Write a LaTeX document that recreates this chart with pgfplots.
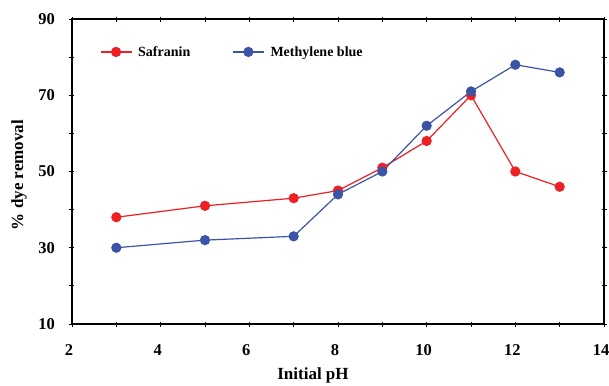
\documentclass[border=0pt]{standalone}
\usepackage{pgfplots}
\pgfplotsset{compat=1.18}
\usepackage{fontspec}
\setmainfont{Liberation Serif}
\definecolor{sred}{RGB}{237,32,36}
\definecolor{mblue}{RGB}{59,84,165}
\begin{document}
\begin{tikzpicture}
\begin{axis}[
  scale only axis,
  width=532pt, height=305pt,
  xmin=2, xmax=14, ymin=10, ymax=90,
  xtick={2,4,...,14}, minor xtick={3,5,...,13},
  ytick={10,30,...,90}, minor ytick={20,40,60,80},
  axis line style={line width=1.3pt},
  tick align=center,
  major tick length=5pt, minor tick length=5pt,
  every tick/.style={black, line width=0.8pt},
  tick label style={font=\fontsize{16.5}{18}\selectfont\bfseries},
  /pgf/number format/assume math mode=true,
  yticklabel style={anchor=east, xshift=-11pt},
  xticklabel style={anchor=base, yshift=-29pt, xshift=-3pt},
  xlabel={\fontsize{17}{19}\selectfont\bfseries Initial pH},
  ylabel={\fontsize{17}{19}\selectfont\bfseries \% dye removal},
  xlabel style={at={(axis description cs:0.453,-0.182)}, anchor=base},
  ylabel style={at={(axis description cs:-0.0996,0.4885)}, anchor=center},
  legend style={draw=none, fill=none, inner sep=0pt, outer sep=0pt,
    at={(axis description cs:0.0526,0.892)}, anchor=west,
    font=\fontsize{14}{16}\selectfont\bfseries,
    /tikz/every odd column/.append style={column sep=4pt},
    /tikz/every even column/.append style={column sep=40pt}},
  legend columns=2,
  legend cell align=left,
  legend image code/.code={
    \draw[#1, mark=none] (0pt,0pt) -- (31pt,0pt);
    \draw[#1, only marks] plot coordinates {(15.5pt,0pt)};
  },
]
\addplot[sred, line width=1.2pt, mark=*, mark size=4.5pt, mark options={fill=sred, draw=none}]
  coordinates {(3,38) (5,41) (7,43) (8,45) (9,51) (10,58) (11,70) (12,50) (13,46)};
\addlegendentry{Safranin}
\addplot[mblue, line width=1.2pt, mark=*, mark size=4.5pt, mark options={fill=mblue, draw=none}]
  coordinates {(3,30) (5,32) (7,33) (8,44) (9,50) (10,62) (11,71) (12,78) (13,76)};
\addlegendentry{Methylene blue}
\end{axis}
\pgfresetboundingbox
\path[use as bounding box] (-72pt,-61pt) rectangle (537pt,324pt);
\end{tikzpicture}
\end{document}
